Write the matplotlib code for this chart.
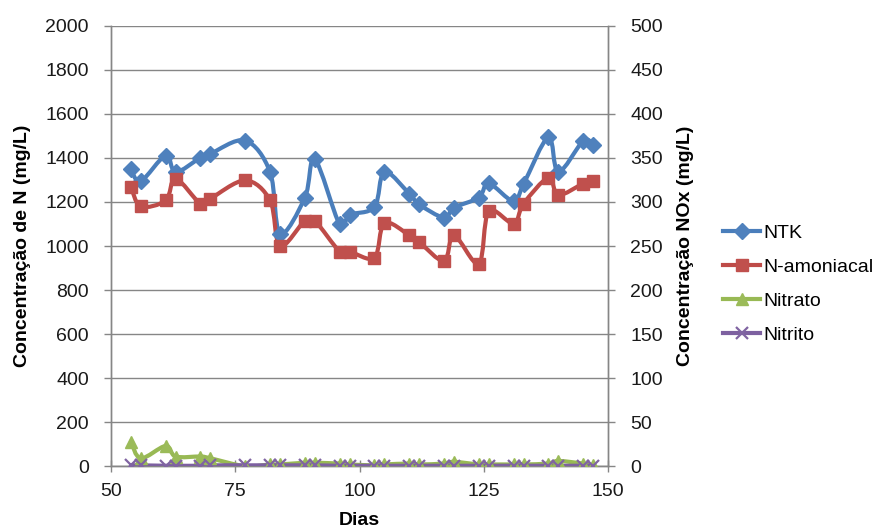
import matplotlib
matplotlib.use("Agg")
import matplotlib.pyplot as plt
from matplotlib.path import Path
from matplotlib.patches import PathPatch
from matplotlib.lines import Line2D

plt.rcParams['font.family'] = ['Liberation Sans', 'DejaVu Sans']

# Sampling days
dias = [54, 56, 61, 63, 68, 70, 77, 82, 84, 89, 91, 96, 98, 103, 105,
        110, 112, 117, 119, 124, 126, 131, 133, 138, 140, 145, 147]

# Left axis: N concentration (mg/L)
ntk = [1348, 1295, 1411, 1336, 1401, 1419, 1479, 1336, 1056, 1219, 1394, 1098,
       1142, 1177, 1336, 1238, 1189, 1129, 1174, 1220, 1284, 1203, 1281, 1494,
       1336, 1477, 1460]
n_amoniacal = [1268, 1180, 1207, 1306, 1192, 1215, 1298, 1207, 1000, 1115, 1115,
               975, 975, 947, 1104, 1049, 1018, 932, 1049, 920, 1157, 1102, 1192,
               1310, 1232, 1283, 1294]

# Right axis: NOx concentration (mg/L)
nitrato = [28, 9, 23, 11, 11, 9, 0, 2, 2, 4, 4, 3, 2, 1, 2, 3, 2, 3, 5, 2, 2,
           2, 2, 3, 6, 3, 1]
nitrito = [1, 1, 0.5, 0.5, 0.5, 1, 1, 1, 1, 1, 1, 0.5, 0.5, 0.5, 0.5, 0.5, 0.5,
           0.5, 0.5, 0.5, 0.5, 0.5, 0.5, 0.5, 0.5, 0.5, 0.5]

series_left = [
    ("NTK", ntk, "#4A7EBB", "#4F81BD", "D", 8),
    ("N-amoniacal", n_amoniacal, "#BE4B48", "#C0504D", "s", 9),
]
series_right = [
    ("Nitrato", nitrato, "#98B954", "#9BBB59", "^", 8.5),
    ("Nitrito", nitrito, "#7D60A0", "#8064A2", "x", 8),
]

GRAY = "#868686"
FS = 14
LW = 3.0


def smooth_path(xs, ys):
    """Bezier path through the points (Catmull-Rom style smoothing)."""
    pts = list(zip(xs, ys))
    n = len(pts)
    verts = [pts[0]]
    codes = [Path.MOVETO]
    for i in range(n - 1):
        p0 = pts[i - 1] if i > 0 else pts[i]
        p1 = pts[i]
        p2 = pts[i + 1]
        p3 = pts[i + 2] if i + 2 < n else pts[i + 1]
        c1 = (p1[0] + (p2[0] - p0[0]) / 6.0, p1[1] + (p2[1] - p0[1]) / 6.0)
        c2 = (p2[0] - (p3[0] - p1[0]) / 6.0, p2[1] - (p3[1] - p1[1]) / 6.0)
        verts += [c1, c2, p2]
        codes += [Path.CURVE4] * 3
    return Path(verts, codes)


fig = plt.figure(figsize=(8.84, 5.31), dpi=100)
ax = fig.add_subplot(111)
fig.subplots_adjust(left=0.1256, right=0.6878, top=0.9514, bottom=0.122)
ax2 = ax.twinx()

handles = []
for axis, group in ((ax, series_left), (ax2, series_right)):
    for name, vals, lc, mc, mk, ms in group:
        axis.add_patch(PathPatch(smooth_path(dias, vals), fill=False,
                                 edgecolor=lc, lw=LW, capstyle='round',
                                 joinstyle='round', zorder=3))
        mew = 1.6 if mk == "x" else 1.0
        axis.plot(dias, vals, linestyle='none', marker=mk, ms=ms,
                  color=mc, markeredgecolor=mc, markeredgewidth=mew, zorder=4)
        handles.append(Line2D([], [], color=lc, lw=LW, marker=mk, ms=ms,
                              markerfacecolor=mc, markeredgecolor=mc,
                              markeredgewidth=mew, label=name))

ax.set_xlim(50, 150)
ax.set_ylim(0, 2000)
ax2.set_ylim(0, 500)
ax.set_xticks([50, 75, 100, 125, 150])
ax.set_yticks(range(0, 2001, 200))
ax2.set_yticks(range(0, 501, 50))

ax.grid(axis='y', color=GRAY, lw=1)
ax.set_axisbelow(True)

for a in (ax, ax2):
    a.spines['top'].set_visible(False)
    for s in ('left', 'right', 'bottom'):
        a.spines[s].set_color(GRAY)
        a.spines[s].set_linewidth(1)

ax.tick_params(axis='y', direction='out', length=5, width=1, color=GRAY,
               labelsize=FS, pad=11, labelcolor='#1a1a1a')
ax.tick_params(axis='x', direction='inout', length=8, width=1, color=GRAY,
               labelsize=FS, pad=8, labelcolor='#1a1a1a')
ax2.tick_params(axis='y', direction='out', length=5, width=1, color=GRAY,
                labelsize=FS, pad=11, labelcolor='#1a1a1a')

ax.set_xlabel("Dias", fontsize=FS, fontweight='bold', labelpad=9)
ax.set_ylabel("Concentração de N (mg/L)", fontsize=FS, fontweight='bold',
              labelpad=10)
ax2.set_ylabel("Concentração NOx (mg/L)", fontsize=FS, fontweight='bold',
               labelpad=10)

fig.legend(handles=handles, loc='upper left', bbox_to_anchor=(0.818, 0.578),
           frameon=False, fontsize=FS, numpoints=1, handlelength=1.9,
           handletextpad=0.15, labelspacing=0.85, borderpad=0,
           borderaxespad=0)

fig.savefig("out.png", dpi=100)
